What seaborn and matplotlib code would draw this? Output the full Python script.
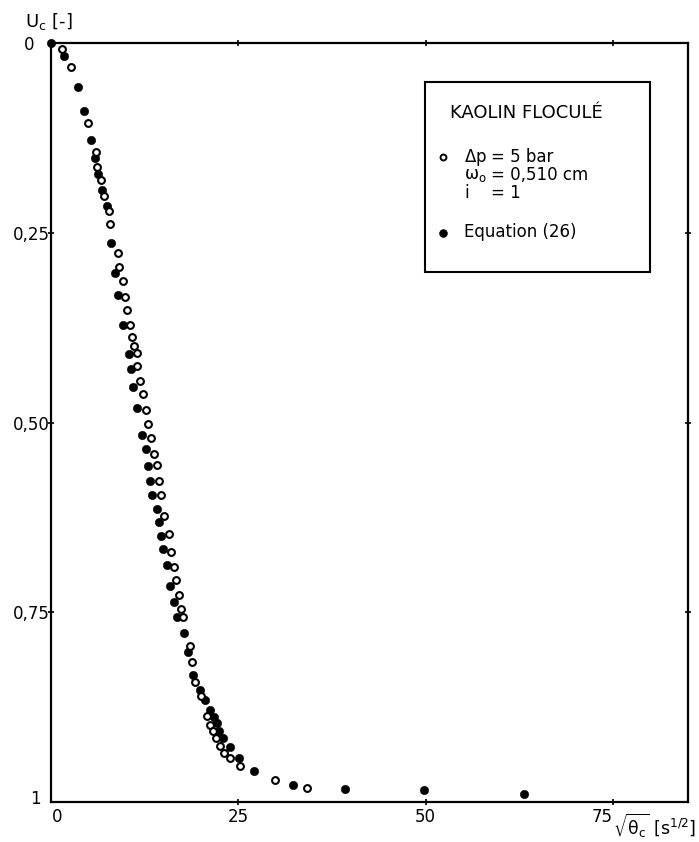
import matplotlib
matplotlib.use("Agg")
import matplotlib.pyplot as plt
import matplotlib.transforms as mtransforms
from matplotlib.patches import Rectangle
import seaborn as sns
import pandas as pd

# ---- data ----
open_x = [1.47, 2.63, 4.99, 6.02, 6.10, 6.64, 7.13, 7.75, 7.89, 8.91, 9.13, 9.58, 9.89,
          10.10, 10.56, 10.87, 11.10, 11.46, 11.54, 11.90, 12.34, 12.66, 12.93, 13.33,
          13.81, 14.13, 14.44, 14.71, 15.10, 15.68, 16.04, 16.44, 16.71, 17.11, 17.34,
          17.60, 18.49, 18.80, 19.25, 20.00, 20.80, 21.16, 21.62, 22.06, 22.60, 23.04,
          23.84, 25.17, 29.95, 34.10]
open_y = [0.008, 0.031, 0.106, 0.143, 0.163, 0.181, 0.202, 0.222, 0.239, 0.277, 0.295,
          0.314, 0.334, 0.352, 0.372, 0.388, 0.399, 0.409, 0.426, 0.445, 0.462, 0.484,
          0.502, 0.521, 0.541, 0.556, 0.577, 0.596, 0.623, 0.647, 0.670, 0.690, 0.708,
          0.727, 0.746, 0.756, 0.794, 0.815, 0.842, 0.860, 0.887, 0.899, 0.906, 0.916,
          0.926, 0.935, 0.942, 0.952, 0.971, 0.982]

eq_x = [0.0, 1.78, 3.65, 4.37, 5.35, 5.93, 6.33, 6.82, 7.44, 8.02, 8.60, 9.00, 9.67,
        10.47, 10.70, 10.92, 11.54, 12.20, 12.66, 12.88, 13.24, 13.54, 14.13, 14.35,
        14.66, 15.01, 15.50, 15.82, 16.44, 16.80, 17.69, 18.22, 19.00, 19.92, 20.50,
        21.26, 21.70, 22.15, 22.46, 22.90, 23.84, 25.13, 27.14, 32.26, 39.26, 49.78, 63.06]
eq_y = [0.0, 0.017, 0.058, 0.090, 0.128, 0.151, 0.172, 0.194, 0.215, 0.263, 0.303, 0.332,
        0.372, 0.410, 0.430, 0.453, 0.481, 0.516, 0.535, 0.557, 0.577, 0.596, 0.614, 0.631,
        0.650, 0.667, 0.688, 0.715, 0.737, 0.756, 0.777, 0.803, 0.833, 0.852, 0.866, 0.879,
        0.888, 0.896, 0.907, 0.916, 0.927, 0.942, 0.959, 0.978, 0.983, 0.984, 0.989]

x_ticks = [0, 25, 50, 75]
x_ticklabels = ["0", "25", "50", "75"]
y_ticks = [0, 0.25, 0.5, 0.75, 1]
y_ticklabels = ["0", "0,25", "0,50", "0,75", "1"]

legend_title = "KAOLIN FLOCULÉ"
legend_exp_names = [r"$\Delta$p", r"$\omega_\mathregular{o}$", "i"]
legend_exp_values = ["= 5 bar", "= 0,510 cm", "= 1"]
legend_eq = "Equation (26)"

# ---- style ----
sns.set_theme(style="ticks")
plt.rcParams["font.family"] = ["DejaVu Sans"]
plt.rcParams["mathtext.fontset"] = "dejavusans"
plt.rcParams["mathtext.default"] = "regular"
plt.rcParams["text.color"] = "black"
plt.rcParams["axes.labelcolor"] = "black"
plt.rcParams["xtick.color"] = "black"
plt.rcParams["ytick.color"] = "black"

fig = plt.figure(figsize=(6.99, 8.42), dpi=100)
ax = fig.add_axes([51 / 699, 1 - 802 / 842, (688 - 51) / 699, (802 - 43) / 842])

df_open = pd.DataFrame({"x": open_x, "y": open_y})
df_eq = pd.DataFrame({"x": eq_x, "y": eq_y})

sns.scatterplot(data=df_eq, x="x", y="y", ax=ax, marker="o", s=36, color="black",
                edgecolor="black", linewidth=0.4, zorder=3, clip_on=False, legend=False)
sns.scatterplot(data=df_open, x="x", y="y", ax=ax, marker="o", s=24, facecolor="white",
                edgecolor="black", linewidth=1.5, zorder=4, clip_on=False, legend=False)

ax.set_xlim(0, 85)
ax.set_ylim(1, 0)
ax.set_xlabel("")
ax.set_ylabel("")

for sp in ax.spines.values():
    sp.set_visible(True)
    sp.set_linewidth(1.6)
    sp.set_color("black")

ax.set_xticks(x_ticks)
ax.set_xticklabels(x_ticklabels)
ax.set_yticks(y_ticks)
ax.set_yticklabels(y_ticklabels)
ax.tick_params(axis="both", which="major", direction="inout", length=5, width=1.2,
               color="black", labelsize=12, labelcolor="black",
               top=True, right=True)
ax.tick_params(axis="y", pad=-1.5)
ax.tick_params(axis="x", pad=1.5)

# hide tick marks at the corners
for t in [ax.xaxis.get_major_ticks()[0]]:
    t.tick1line.set_visible(False)
    t.tick2line.set_visible(False)
for t in [ax.yaxis.get_major_ticks()[0], ax.yaxis.get_major_ticks()[-1]]:
    t.tick1line.set_visible(False)
    t.tick2line.set_visible(False)

# label nudges
def nudge(label, dx_px, dy_px=0):
    off = mtransforms.ScaledTranslation(dx_px / 100, dy_px / 100, fig.dpi_scale_trans)
    label.set_transform(label.get_transform() + off)

ylabels = ax.get_yticklabels()
nudge(ylabels[0], -15)
nudge(ylabels[-1], -9, 5)
xlabels = ax.get_xticklabels()
nudge(xlabels[0], 6)
xlabels[-1].set_horizontalalignment("right")

# axis labels
fig.text(25 / 699, 1 - 22 / 842, r"U$_\mathregular{c}$ [-]", fontsize=13,
         ha="left", va="center")
fig.text(613 / 699, 1 - 826 / 842, r"$\sqrt{\theta_c}$ [s$^{1/2}$]", fontsize=12.5,
         ha="left", va="center")

# legend box
def ax_x(px):
    return (px - 51) / 637

def ax_y(py):
    return (802 - py) / 759

ax.add_patch(Rectangle((ax_x(425), ax_y(272)), ax_x(650) - ax_x(425), ax_y(82) - ax_y(272),
                       transform=ax.transAxes, facecolor="white", edgecolor="black",
                       linewidth=1.5, zorder=5, clip_on=False))
ax.text(ax_x(450), ax_y(113), legend_title, transform=ax.transAxes, fontsize=13,
        ha="left", va="center", zorder=6)
ax.scatter([ax_x(443)], [ax_y(157)], transform=ax.transAxes, s=18, facecolor="white",
           edgecolor="black", linewidth=1.4, zorder=6, clip_on=False)
for py, name, val in zip([157, 175, 193], legend_exp_names, legend_exp_values):
    ax.text(ax_x(464), ax_y(py), name, transform=ax.transAxes, fontsize=12,
            ha="left", va="center", zorder=6)
    ax.text(ax_x(491), ax_y(py), val, transform=ax.transAxes, fontsize=12,
            ha="left", va="center", zorder=6)
ax.scatter([ax_x(443)], [ax_y(233)], transform=ax.transAxes, s=32, facecolor="black",
           edgecolor="black", linewidth=0.4, zorder=6, clip_on=False)
ax.text(ax_x(464), ax_y(232), legend_eq, transform=ax.transAxes, fontsize=12,
        ha="left", va="center", zorder=6)

fig.savefig("out.png", dpi=100, facecolor="white")
